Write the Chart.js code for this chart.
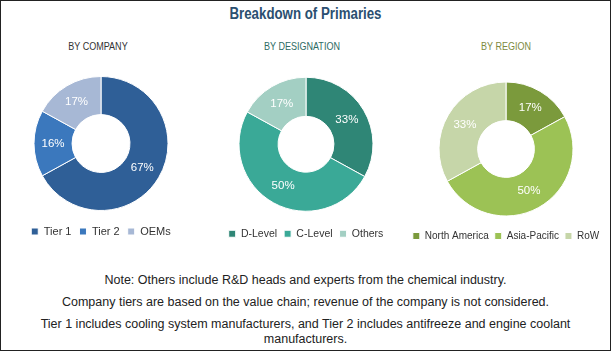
<!DOCTYPE html>
<html>
<head>
<meta charset="utf-8">
<script src="https://cdn.jsdelivr.net/npm/chart.js@4.4.1/dist/chart.umd.min.js"></script>
<style>
  html, body { margin: 0; padding: 0; background: #fff; }
  #frame { position: relative; width: 609px; height: 349px; border: 1px solid #222; overflow: hidden; font-family: "Liberation Sans", Arial, sans-serif; }
  .abs { position: absolute; }
  #title { left: 0; width: 609px; top: 4px; text-align: center; font-size: 16px; font-weight: bold; color: #2b4f70; transform: scaleX(0.83); }
  .sub { top: 39px; width: 200px; text-align: center; font-size: 11px; transform: scaleX(0.82); }
  .note { left: 0; width: 609px; text-align: center; font-size: 12.5px; color: #222; }
  .box { position: absolute; }
</style>
</head>
<body>
<div id="frame">
  <div id="title" class="abs">Breakdown of Primaries</div>
  <div class="abs sub" style="left:-3px;color:#333;">BY COMPANY</div>
  <div class="abs sub" style="left:201px;color:#2d6b63;">BY DESIGNATION</div>
  <div class="abs sub" style="left:405px;color:#7d8a3e;">BY REGION</div>

  <div class="box" style="left:0;top:68px;width:200px;height:178px;"><canvas id="cCompany"></canvas></div>
  <div class="box" style="left:205px;top:66px;width:200px;height:182px;"><canvas id="cDesig"></canvas></div>
  <div class="box" style="left:395px;top:72px;width:220px;height:178px;"><canvas id="cRegion"></canvas></div>

  <div class="abs note" style="top:272px;">Note: Others include R&amp;D heads and experts from the chemical industry.</div>
  <div class="abs note" style="top:294px;">Company tiers are based on the value chain; revenue of the company is not considered.</div>
  <div class="abs note" style="top:316px;line-height:15px;">Tier 1 includes cooling system manufacturers, and Tier 2 includes antifreeze and engine coolant<br>manufacturers.</div>
</div>
<script>
const companyLabels = ["Tier 1", "Tier 2", "OEMs"];
const companyValues = [67, 16, 17];
const companyColors = ["#2f5f97", "#3b78bd", "#a7b8d5"];

const desigLabels = ["D-Level", "C-Level", "Others"];
const desigValues = [33, 50, 17];
const desigColors = ["#2f8676", "#3aa997", "#a3cfc3"];

const regionLabels = ["North America", "Asia-Pacific", "RoW"];
const regionValues = [17, 50, 33];
const regionColors = ["#7b9a3c", "#9cc255", "#c6d6a9"];

// percent labels in the middle of each ring slice
const pctLabels = {
  id: "pctLabels",
  afterDatasetsDraw(chart){
    const ctx = chart.ctx;
    const ds = chart.data.datasets[0];
    chart.getDatasetMeta(0).data.forEach((arc, i) => {
      const p = arc.tooltipPosition();
      ctx.save();
      ctx.fillStyle = "#fff";
      ctx.font = "11.5px 'Liberation Sans', Arial, sans-serif";
      ctx.textAlign = "center";
      ctx.textBaseline = "middle";
      ctx.fillText(ds.data[i] + "%", p.x, p.y);
      ctx.restore();
    });
  }
};

function makeDonut(id, labels, values, colors, fontSize, pad){
  return new Chart(document.getElementById(id), {
    type: "doughnut",
    data: { labels, datasets: [{ data: values, backgroundColor: colors, borderColor: "#fff", borderWidth: 1 }] },
    options: {
      responsive: true,
      maintainAspectRatio: false,
      animation: false,
      radius: 67,
      cutout: 32,
      layout: { padding: 0 },
      plugins: {
        legend: {
          position: "bottom",
          labels: {
            boxWidth: 7, boxHeight: 7, padding: pad, color: "#333",
            font: { size: fontSize, family: "'Liberation Sans', Arial, sans-serif" }
          }
        },
        tooltip: { enabled: false }
      }
    },
    plugins: [pctLabels]
  });
}

makeDonut("cCompany", companyLabels, companyValues, companyColors, 11, 8);
makeDonut("cDesig", desigLabels, desigValues, desigColors, 10.5, 7);
makeDonut("cRegion", regionLabels, regionValues, regionColors, 10, 6);
</script>
</body>
</html>
